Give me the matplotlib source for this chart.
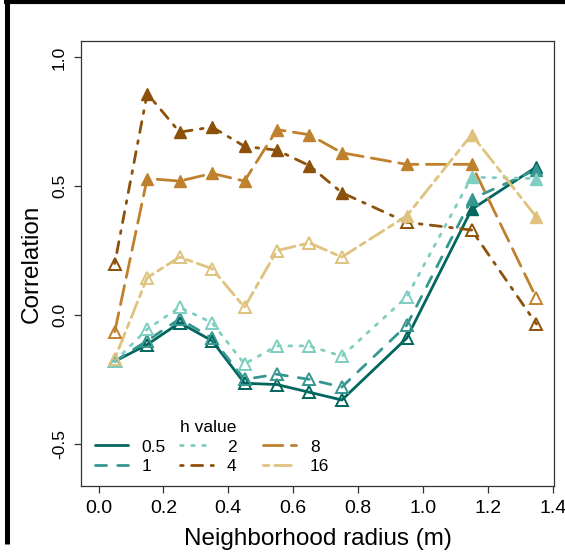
import matplotlib
matplotlib.use("Agg")
import matplotlib.pyplot as plt
from matplotlib.lines import Line2D
from matplotlib.legend import Legend
import numpy as np

plt.rcParams['font.family'] = ['Liberation Sans', 'DejaVu Sans']

radius = [0.05, 0.15, 0.25, 0.35, 0.45, 0.55, 0.65, 0.75, 0.95, 1.15, 1.35]
h_labels = ["0.5", "1", "2", "4", "8", "16"]

corr_h05 = [-0.18, -0.115, -0.03, -0.10, -0.265, -0.27, -0.30, -0.33, -0.09, 0.41, 0.575]
corr_h1 = [-0.18, -0.10, -0.015, -0.09, -0.25, -0.23, -0.25, -0.28, -0.04, 0.45, 0.565]
corr_h2 = [-0.18, -0.055, 0.03, -0.03, -0.19, -0.12, -0.12, -0.16, 0.07, 0.535, 0.53]
corr_h4 = [0.20, 0.86, 0.71, 0.73, 0.655, 0.64, 0.58, 0.475, 0.36, 0.33, -0.035]
corr_h8 = [-0.065, 0.53, 0.52, 0.55, 0.52, 0.72, 0.70, 0.63, 0.585, 0.585, 0.065]
corr_h16 = [-0.17, 0.145, 0.225, 0.18, 0.03, 0.25, 0.28, 0.225, 0.385, 0.70, 0.38]

sig_h05 = [0, 0, 0, 0, 0, 0, 0, 0, 0, 1, 1]
sig_h1 = [0, 0, 0, 0, 0, 0, 0, 0, 0, 1, 1]
sig_h2 = [0, 0, 0, 0, 0, 0, 0, 0, 0, 1, 1]
sig_h4 = [0, 1, 1, 1, 1, 1, 1, 1, 0, 0, 0]
sig_h8 = [0, 1, 1, 1, 1, 1, 1, 1, 1, 1, 0]
sig_h16 = [0, 0, 0, 0, 0, 0, 0, 0, 1, 1, 1]

x_ticks = [0.0, 0.2, 0.4, 0.6, 0.8, 1.0, 1.2, 1.4]
x_tick_labels = ["0.0", "0.2", "0.4", "0.6", "0.8", "1.0", "1.2", "1.4"]
y_ticks = [-0.5, 0.0, 0.5, 1.0]
y_tick_labels = ["-0.5", "0.0", "0.5", "1.0"]

series = [corr_h05, corr_h1, corr_h2, corr_h4, corr_h8, corr_h16]
sigs = [sig_h05, sig_h1, sig_h2, sig_h4, sig_h8, sig_h16]
colors = ["#01665e", "#35978f", "#80cdc1", "#8c510a", "#bf812d", "#dfc27d"]
styles = ["-", (0, (4, 4)), (0, (1, 3)), (0, (1, 3, 4, 3)), (0, (7, 3)), (0, (2, 2, 6, 2))]

W, H = 565, 552
fig = plt.figure(figsize=(W / 100, H / 100), dpi=100)
ax = fig.add_axes([81 / W, (H - 486) / H, (554 - 81) / W, (486 - 41) / H])

lw = 2.0
handles = []
for ys, sg, c, ls, lab in zip(series, sigs, colors, styles, h_labels):
    x = np.array(radius)
    y = np.array(ys)
    s = np.array(sg).astype(bool)
    ax.plot(x, y, color=c, linestyle=ls, linewidth=lw,
            dash_capstyle='round', solid_capstyle='round', zorder=2)
    ax.plot(x[~s], y[~s], linestyle='none', marker='^', markersize=8,
            markerfacecolor='none', markeredgecolor=c, markeredgewidth=1.4, zorder=3)
    ax.plot(x[s], y[s], linestyle='none', marker='^', markersize=8,
            markerfacecolor=c, markeredgecolor=c, markeredgewidth=1.0, zorder=3)
    handles.append(Line2D([0], [0], color=c, linestyle=ls, linewidth=lw,
                          dash_capstyle='round', solid_capstyle='round', label=lab))

ax.set_xlim(-0.054, 1.404)
ax.set_ylim(-0.664, 1.064)
ax.set_xticks(x_ticks)
ax.set_yticks(y_ticks)
ax.set_xticklabels(x_tick_labels)
ax.set_yticklabels(y_tick_labels, rotation=90, va='center')
ax.tick_params(axis='both', direction='out', length=5, width=0.9, color='#333333')
ax.tick_params(axis='x', pad=5, labelsize=14)
ax.tick_params(axis='y', pad=5, labelsize=12.5)
for sp in ax.spines.values():
    sp.set_linewidth(0.9)
    sp.set_color('#333333')

ax.set_xlabel("Neighborhood radius (m)", fontsize=17.5, labelpad=8)
ax.set_ylabel("Correlation", fontsize=17.5, labelpad=7)

# legend: three equally spaced columns (R-style), title over the middle column
fs = 12.5
col_x_px = [95, 180, 263]
bottom_px = 481
pad_px = 0.4 * fs * 100 / 72
for i, xpx in enumerate(col_x_px):
    hs = handles[2 * i: 2 * i + 2]
    leg = Legend(ax, hs, [h.get_label() for h in hs], loc='lower left',
                 frameon=False, fontsize=fs, title=("h value" if i == 1 else None),
                 title_fontsize=fs, handlelength=1.9, handletextpad=0.8,
                 labelspacing=0.25, borderaxespad=0.0, borderpad=0.4,
                 bbox_to_anchor=((xpx - pad_px) / W, 1 - bottom_px / H),
                 bbox_transform=fig.transFigure)
    ax.add_artist(leg)

# thick frame lines at the left and top of the image
fig.add_artist(Line2D([6.5 / W, 6.5 / W], [1.0, (H - 544) / H], transform=fig.transFigure,
                      color='black', linewidth=3.6, solid_capstyle='butt'))
fig.add_artist(Line2D([4 / W, 1.0], [1 - 2 / H, 1 - 2 / H], transform=fig.transFigure,
                      color='black', linewidth=3.0, solid_capstyle='butt'))

fig.savefig("out.png", dpi=100)
